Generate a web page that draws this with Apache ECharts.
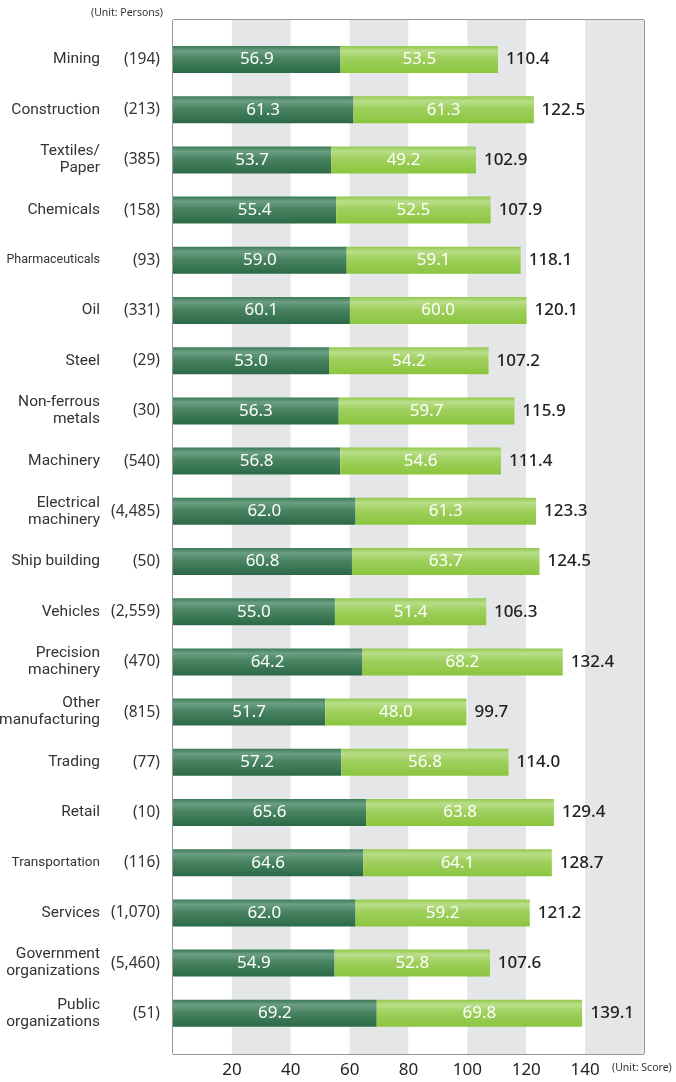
<!DOCTYPE html>
<html>
<head>
<meta charset="utf-8">
<script src="https://cdn.jsdelivr.net/npm/echarts@6/dist/echarts.min.js"></script>
<style>
  html, body { margin: 0; padding: 0; background: #fff; }
  #chart { width: 676px; height: 1082px; }
</style>
</head>
<body>
<div id="chart"></div>
<script>
// Industry categories with respondent counts
const categories = [
  'Mining', 'Construction', 'Textiles/\nPaper', 'Chemicals', 'Pharmaceuticals',
  'Oil', 'Steel', 'Non-ferrous\nmetals', 'Machinery', 'Electrical\nmachinery',
  'Ship building', 'Vehicles', 'Precision\nmachinery', 'Other\nmanufacturing', 'Trading',
  'Retail', 'Transportation', 'Services', 'Government\norganizations', 'Public\norganizations'
];
const counts = [
  '194', '213', '385', '158', '93', '331', '29', '30', '540', '4,485',
  '50', '2,559', '470', '815', '77', '10', '116', '1,070', '5,460', '51'
];
// Scores: first component, second component, total
const partA = [56.9, 61.3, 53.7, 55.4, 59.0, 60.1, 53.0, 56.3, 56.8, 62.0,
               60.8, 55.0, 64.2, 51.7, 57.2, 65.6, 64.6, 62.0, 54.9, 69.2];
const partB = [53.5, 61.3, 49.2, 52.5, 59.1, 60.0, 54.2, 59.7, 54.6, 61.3,
               63.7, 51.4, 68.2, 48.0, 56.8, 63.8, 64.1, 59.2, 52.8, 69.8];
const totals = [110.4, 122.5, 102.9, 107.9, 118.1, 120.1, 107.2, 115.9, 111.4, 123.3,
                124.5, 106.3, 132.4, 99.7, 114.0, 129.4, 128.7, 121.2, 107.6, 139.1];
const xTicks = [20, 40, 60, 80, 100, 120, 140];

// long single-word names are set in a smaller size
const smallNames = { 'Pharmaceuticals': 'p', 'Transportation': 't' };
const FONT = '"Noto Sans", "DejaVu Sans", sans-serif';
const NAME_FONT = 'Roboto, "Noto Sans", sans-serif';

const chart = echarts.init(document.getElementById('chart'), null, { renderer: 'canvas' });

const darkGrad = new echarts.graphic.LinearGradient(0, 0, 0, 1, [
  { offset: 0, color: '#3a7a55' },
  { offset: 0.18, color: '#6c9f83' },
  { offset: 0.45, color: '#4a8563' },
  { offset: 1, color: '#2b6946' }
]);
const lightGrad = new echarts.graphic.LinearGradient(0, 0, 0, 1, [
  { offset: 0, color: '#93c94c' },
  { offset: 0.18, color: '#b9de8a' },
  { offset: 0.45, color: '#9fd05e' },
  { offset: 1, color: '#8bc53e' }
]);

const option = {
  animation: false,
  backgroundColor: '#fff',
  grid: [
    // bars
    { left: 173, right: 32, top: 34.4, bottom: 43.6, show: false, containLabel: false, outerBoundsMode: 'none' },
    // frame and banded background
    { left: 173, right: 32, top: 20, bottom: 28, show: true, borderColor: '#333', borderWidth: 1,
      backgroundColor: 'transparent', containLabel: false, outerBoundsMode: 'none' }
  ],
  xAxis: [
    { gridIndex: 0, type: 'value', min: 0, max: 160, interval: 20, show: false },
    {
      gridIndex: 1, type: 'value', min: 0, max: 160, interval: 20,
      axisLine: { show: false }, axisTick: { show: false },
      splitLine: { show: false },
      splitArea: { show: true, areaStyle: { color: ['#ffffff', '#e5e6e8'] } },
      axisLabel: {
        margin: 8, color: '#222', fontSize: 17, fontFamily: FONT,
        formatter: v => (xTicks.indexOf(v) >= 0 ? String(v) : '')
      }
    }
  ],
  yAxis: [
    {
      gridIndex: 0, type: 'category', data: categories, inverse: true,
      axisLine: { show: false }, axisTick: { show: false }, splitLine: { show: false },
      axisLabel: {
        margin: 73, color: '#333', fontFamily: NAME_FONT, fontSize: 15.5, lineHeight: 17, align: 'right',
        formatter: v => smallNames[v] ? '{' + smallNames[v] + '|' + v + '}' : v,
        rich: {
          p: { fontSize: 12.5, color: '#333', fontFamily: NAME_FONT },
          t: { fontSize: 13.5, color: '#333', fontFamily: NAME_FONT }
        }
      }
    },
    {
      gridIndex: 0, type: 'category', data: counts, inverse: true, position: 'left', offset: 0,
      axisLine: { show: false }, axisTick: { show: false }, splitLine: { show: false },
      axisLabel: {
        margin: 13, color: '#333', fontFamily: FONT, fontSize: 15.5, align: 'right',
        formatter: v => '(' + v + ')'
      }
    },
    { gridIndex: 1, type: 'value', min: 0, max: 1, show: false }
  ],
  series: [
    {
      name: 'A', type: 'bar', stack: 's', xAxisIndex: 0, yAxisIndex: 0,
      data: partA, barWidth: 27,
      itemStyle: { color: darkGrad },
      label: {
        show: true, position: 'inside', color: '#fff', fontSize: 17, fontFamily: FONT,
        formatter: p => partA[p.dataIndex].toFixed(1)
      }
    },
    {
      name: 'B', type: 'bar', stack: 's', xAxisIndex: 0, yAxisIndex: 0,
      data: partB, barWidth: 27,
      itemStyle: { color: lightGrad },
      label: {
        show: true, position: 'inside', color: '#fff', fontSize: 17, fontFamily: FONT,
        formatter: p => partB[p.dataIndex].toFixed(1)
      }
    },
    {
      name: 'Total', type: 'bar', xAxisIndex: 0, yAxisIndex: 0,
      data: totals, barWidth: 27, barGap: '-100%', silent: true,
      itemStyle: { color: 'rgba(0,0,0,0)' },
      label: {
        show: true, position: 'right', distance: 8, color: '#222', fontSize: 17,
        fontWeight: 500, fontFamily: FONT,
        formatter: p => totals[p.dataIndex].toFixed(1)
      }
    }
  ],
  graphic: [
    {
      type: 'text', right: 676 - 163, top: 8,
      style: { text: '(Unit: Persons)', fill: '#333', fontSize: 10.5, fontFamily: FONT }
    },
    {
      type: 'text', left: 612, top: 1063,
      style: { text: '(Unit: Score)', fill: '#333', fontSize: 10.5, fontFamily: FONT }
    }
  ]
};

chart.setOption(option);
</script>
</body>
</html>
